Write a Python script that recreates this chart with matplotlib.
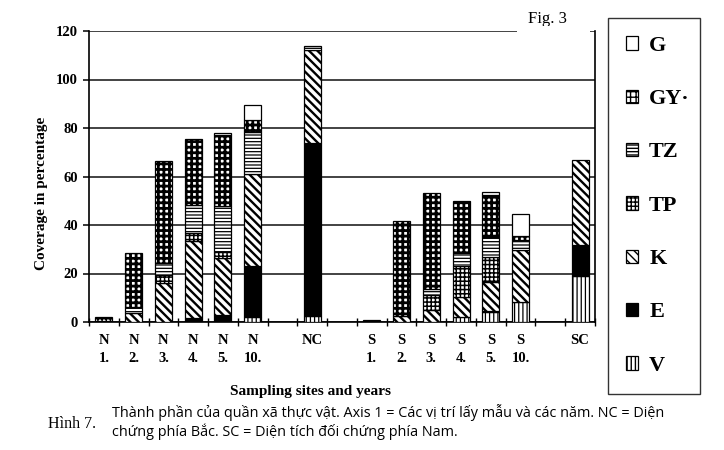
import numpy as np
import matplotlib
matplotlib.use("Agg")
import matplotlib.pyplot as plt
from matplotlib.patches import Patch, Rectangle

# ── Data (bottom -> top stacking order: V, E, K, TP, TZ, GY, G) ───────────────
sites = ["N\n1.", "N\n2.", "N\n3.", "N\n4.", "N\n5.", "N\n10.", "",
         "NC", "",
         "S\n1.", "S\n2.", "S\n3.", "S\n4.", "S\n5.", "S\n10.", "",
         "SC"]

V  = [0,   0,    0,    0,    0,    2.0,  0, 2.6,  0, 0,   0,    0,    2.0,  4.0,  8.1,  0, 19.1]
E  = [0.6, 0,    0,    1.6,  3.0,  21.0, 0, 71.4, 0, 1.0, 0,    0,    0,    0.7,  0,    0, 12.8]
K  = [0,   3.7,  16.0, 31.6, 23.3, 38.2, 0, 38.0, 0, 0,   2.3,  4.8,  8.4,  12.0, 21.7, 0, 34.7]
TP = [1.6, 0,    3.4,  3.4,  2.5,  0,    0, 0,    0, 0,   0,    6.5,  12.6, 10.0, 0,    0, 0]
TZ = [0,   2.5,  4.8,  11.7, 19.2, 17.2, 0, 2.0,  0, 0,   0,    2.3,  5.5,  8.5,  4.1,  0, 0]
GY = [0,   22.2, 42.3, 27.2, 29.0, 4.7,  0, 0,    0, 0,   39.4, 39.5, 21.6, 17.2, 1.6,  0, 0]
G  = [0,   0,    0,    0,    1.1,  6.2,  0, 0,    0, 0,   0,    0,    0,    1.1,  8.9,  0, 0]

species = ["V", "E", "K", "TP", "TZ", "GY", "G"]
legend_labels = ["G", "GY\u00b7", "TZ", "TP", "K", "E", "V"]

# ── Styles (face, hatch, hatch linewidth) ────────────────────────────────────
styles = {
    "V":  ("white", "||||",     0.9),
    "E":  ("black", None,       1.0),
    "K":  ("white", "\\\\\\\\", 1.7),
    "TP": ("white", "++++",     1.1),
    "TZ": ("white", "-----",    0.9),
    "GY": ("white", "+++",      2.0),
    "G":  ("white", None,       1.0),
}

SERIF = "Liberation Serif"

fig = plt.figure(figsize=(7.24, 4.5), dpi=100)
ax = fig.add_axes([89 / 724, 1 - 322 / 450, (595 - 89) / 724, (322 - 31) / 450])

x = np.arange(len(sites))
width = 0.57
bottom = np.zeros(len(sites))
data = {"V": V, "E": E, "K": K, "TP": TP, "TZ": TZ, "GY": GY, "G": G}
handles = {}
for sp in species:
    vals = np.array(data[sp], dtype=float)
    face, hatch, hlw = styles[sp]
    mask = vals > 0
    with plt.rc_context({"hatch.linewidth": hlw, "hatch.color": "black"}):
        ax.bar(x[mask], vals[mask], width, bottom=bottom[mask], color=face,
               hatch=hatch, edgecolor="black", linewidth=0.9, zorder=3)
        handles[sp] = Patch(facecolor=face, hatch=hatch, edgecolor="black", linewidth=0.9)
    bottom += vals

# ── Axes styling ─────────────────────────────────────────────────────────────
ax.set_xlim(-0.5, len(sites) - 0.5)
ax.set_ylim(0, 120)
ax.set_yticks(np.arange(0, 121, 20))
ax.yaxis.grid(True, color="#222222", linewidth=1.2, zorder=0)
ax.set_axisbelow(True)
ax.spines["top"].set_visible(False)
for s in ["left", "bottom", "right"]:
    ax.spines[s].set_linewidth(1.2)
ax.tick_params(axis="y", direction="out", length=4, width=1.1, pad=4)
for lab in ax.get_yticklabels():
    lab.set_fontfamily(SERIF)
    lab.set_fontweight("bold")
    lab.set_fontsize(10.5)

ax.set_xticks(x)
ax.set_xticklabels(sites, fontfamily=SERIF, fontweight="bold", fontsize=10.5,
                   linespacing=1.45)
ax.tick_params(axis="x", which="major", length=0, pad=9)
ax.set_xticks(np.arange(-0.5, len(sites)), minor=True)
ax.tick_params(axis="x", which="minor", direction="inout", length=6, width=1)

fig.text(42 / 724, 1 - 193 / 450, "Coverage in percentage", rotation=90,
         ha="center", va="center", fontfamily=SERIF, fontweight="bold", fontsize=11)
fig.text(311 / 724, 1 - 392 / 450, "Sampling sites and years", ha="center",
         va="center", fontfamily=SERIF, fontweight="bold", fontsize=11)

# gap in the top line around "Fig. 3"
fig.patches.append(Rectangle((517 / 724, 1 - 36 / 450), 73 / 724, 10 / 450,
                             transform=fig.transFigure, facecolor="white",
                             edgecolor="none", zorder=10))
fig.text(547 / 724, 1 - 19 / 450, "Fig. 3", ha="center", va="center",
         fontfamily=SERIF, fontsize=12)

# ── Legend ───────────────────────────────────────────────────────────────────
leg = fig.legend([handles[sp] for sp in species[::-1]], legend_labels,
                 loc="upper left",
                 bbox_to_anchor=(608 / 724, 1 - 18 / 450, 92 / 724, 0.0),
                 mode="expand",
                 prop={"family": SERIF, "weight": "bold", "size": 16},
                 handlelength=0.55, handleheight=0.55, handletextpad=0.5,
                 labelspacing=1.5, borderpad=0.8, borderaxespad=0,
                 frameon=True, fancybox=False, edgecolor="black")
leg.get_frame().set_linewidth(1.0)

# ── Caption ──────────────────────────────────────────────────────────────────
fig.text(48 / 724, 1 - 424 / 450, "Hình 7.", ha="left", va="center",
         fontfamily=SERIF, fontsize=11.5)
fig.text(112 / 724, 1 - 404 / 450,
         "Thành phần của quần xã thực vật. Axis 1 = Các vị trí lấy mẫu và các năm. NC = Diện\n"
         "chứng phía Bắc. SC = Diện tích đối chứng phía Nam.",
         ha="left", va="top", fontfamily="Open Sans", fontsize=10.4, linespacing=1.2)

fig.savefig("out.png", dpi=100)
